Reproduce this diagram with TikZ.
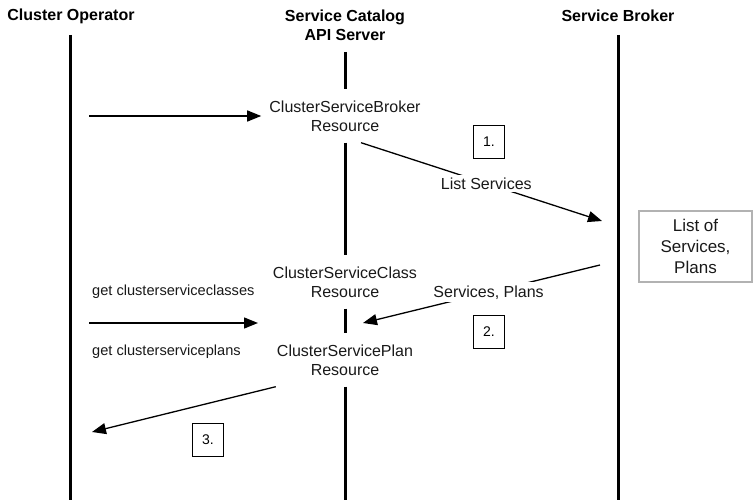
\documentclass[tikz,border=0pt]{standalone}
\usepackage{fontspec}
\setmainfont{Liberation Sans}
\usetikzlibrary{arrows.meta,positioning}

\begin{document}
\begin{tikzpicture}[x=1pt,y=-1pt]

\tikzset{
  head/.style = {font=\fontsize{16}{19}\selectfont\bfseries, align=center, inner sep=0pt},
  res/.style  = {font=\fontsize{16}{19}\selectfont, align=center, inner xsep=8pt,
                 inner ysep=0pt, minimum height=53pt, text=black!90},
  note/.style = {font=\fontsize{14.6}{17}\selectfont, inner sep=0pt, anchor=west, text=black!90},
  lbl/.style  = {font=\fontsize{16}{19}\selectfont, fill=white, inner sep=3pt, text=black!90},
  num/.style  = {draw, line width=0.8pt, minimum width=31pt, minimum height=33pt,
                 inner sep=0pt, font=\fontsize{14}{17}\selectfont},
  lst/.style  = {draw=black!30, line width=2pt, minimum width=113pt, minimum height=71pt,
                 inner sep=0pt, align=center, font=\fontsize{17}{21}\selectfont, text=black!90},
  life/.style = {line width=3pt},
  msg/.style  = {-{Triangle[length=14pt,width=11pt]}, line width=1.3pt},
}

\useasboundingbox (0,0) rectangle (755,500);

% headers
\node[head] (hop)  at (71,16)    {Cluster Operator};
\node[head] (hcat) at (345,25.5) {Service Catalog\\API Server};
\node[head] (hbrk) at (618,16)   {Service Broker};

% resources on the api server
\node[res] (csb) at (345,116) {ClusterServiceBroker\\Resource};
\node[res] (csc) at (345,282) {ClusterServiceClass\\Resource};
\node[res] (csp) at (345,360) {ClusterServicePlan\\Resource};

\node[lst] (lst) at (695.5,246.5) {List of\\Services,\\Plans};

\node[num] (n1) at (489,142) {1.};
\node[num] (n2) at (489,332) {2.};
\node[num] (n3) at (208,440) {3.};

% lifelines
\draw[life] (70,35) -- (70,500);
\draw[life] (618,35) -- (618,500);
\draw[life] (345,52) -- (csb.north);
\draw[life] (csb.south) -- (csc.north);
\draw[life] (csc.south) -- (csp.north);
\draw[life] (csp.south) -- (345,500);

% message ends
\coordinate (o1) at (89,116);
\coordinate (o2) at (89,323);
\coordinate (o3) at (92,432);
\coordinate (c1) at (258,323);
\coordinate (c2) at (363,323);
\coordinate (b1) at (602,221);
\coordinate (b2) at (600,265);

\draw[msg] (o1) -- (csb.west);
\draw[msg] ([xshift=16pt]csb.south) -- node[lbl, pos=0.52] (lsv) {List Services} (b1);
\draw[msg] (b2) -- node[lbl, pos=0.47] (spl) {Services, Plans} (c2);
\draw[msg] (o2) -- (c1);
\draw[msg] ([xshift=7pt]csp.south west) -- (o3);

\node[note] (gcls) at (92,292) {get clusterserviceclasses};
\node[note] (gpln) at (92,352) {get clusterserviceplans};

\end{tikzpicture}
\end{document}
